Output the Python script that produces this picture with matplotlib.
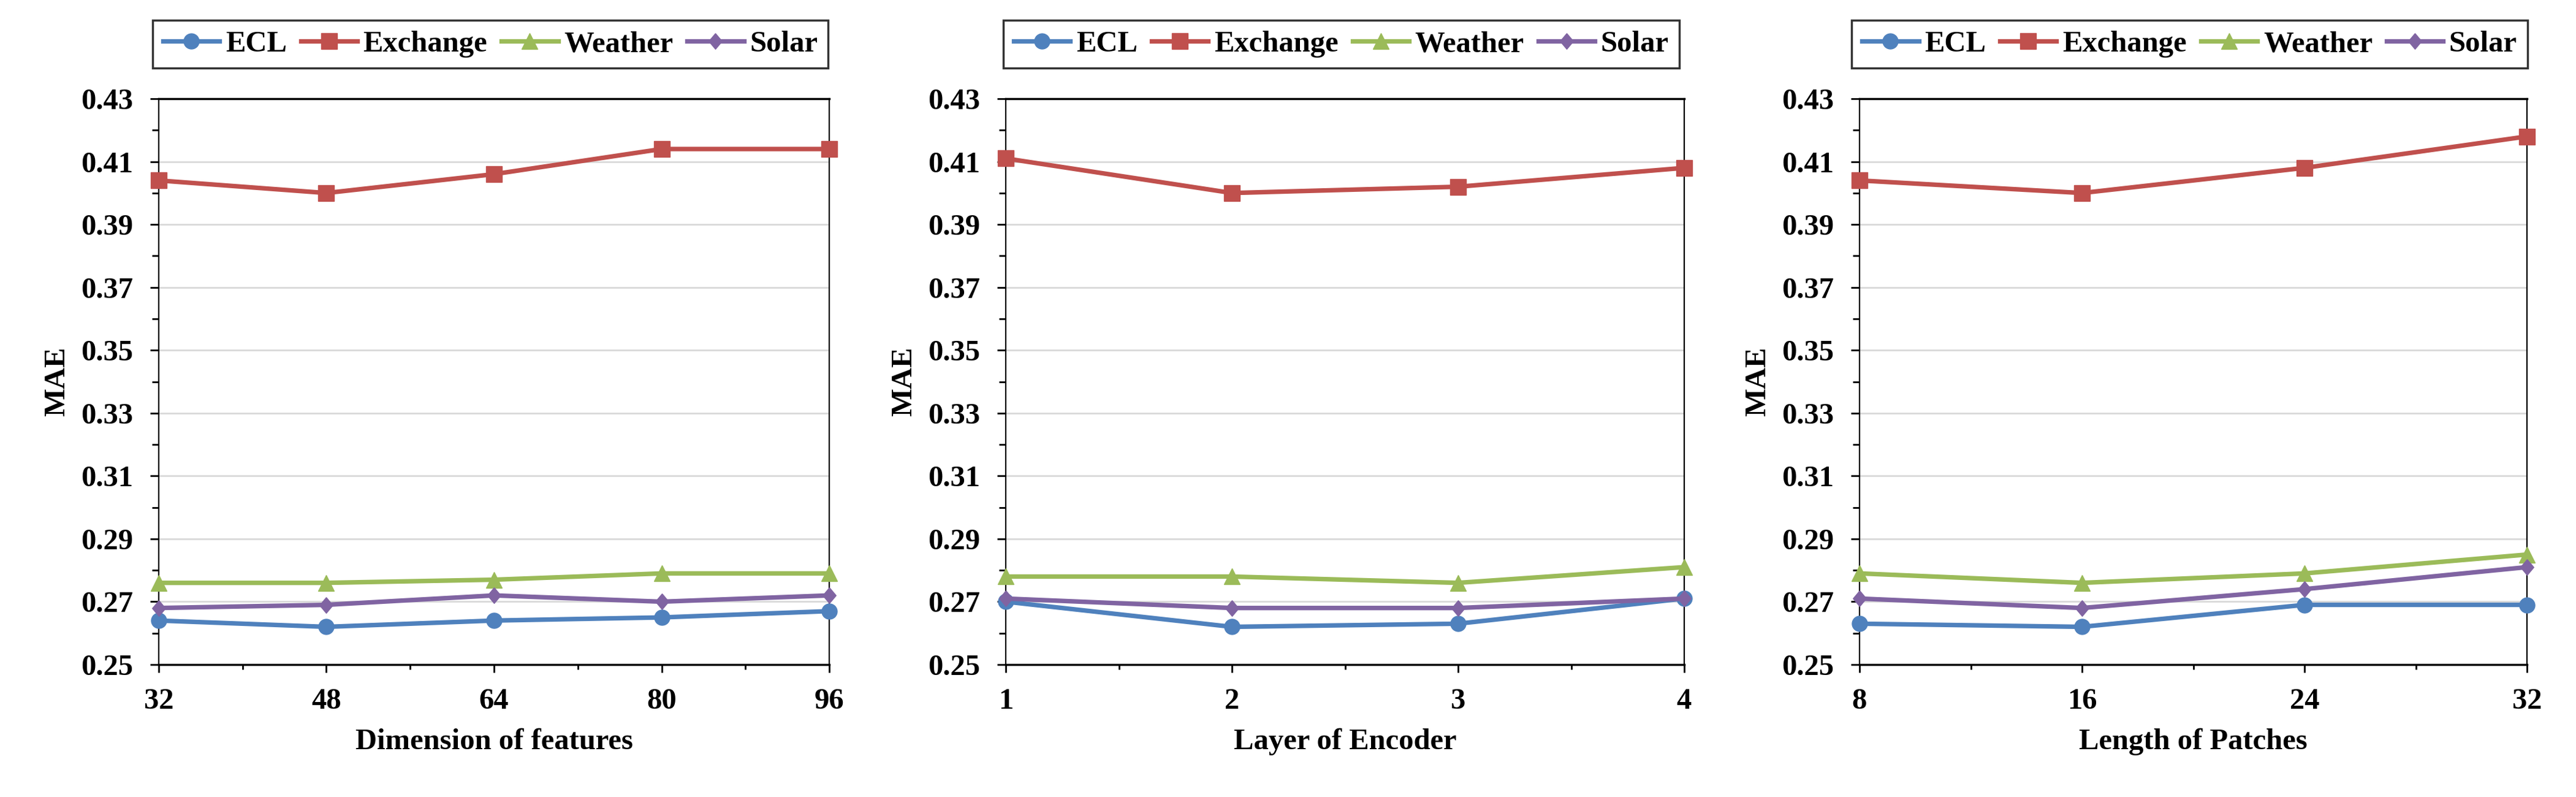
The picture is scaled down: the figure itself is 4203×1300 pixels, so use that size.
import matplotlib
matplotlib.use("Agg")
import matplotlib.pyplot as plt
from matplotlib.ticker import MultipleLocator, FixedLocator

# ---------------- data ----------------
series_names = ["ECL", "Exchange", "Weather", "Solar"]

x_dim = [32, 48, 64, 80, 96]
dim_ecl = [0.264, 0.262, 0.264, 0.265, 0.267]
dim_exchange = [0.404, 0.400, 0.406, 0.414, 0.414]
dim_weather = [0.276, 0.276, 0.277, 0.279, 0.279]
dim_solar = [0.268, 0.269, 0.272, 0.270, 0.272]

x_layer = [1, 2, 3, 4]
layer_ecl = [0.270, 0.262, 0.263, 0.271]
layer_exchange = [0.411, 0.400, 0.402, 0.408]
layer_weather = [0.278, 0.278, 0.276, 0.281]
layer_solar = [0.271, 0.268, 0.268, 0.271]

x_patch = [8, 16, 24, 32]
patch_ecl = [0.263, 0.262, 0.269, 0.269]
patch_exchange = [0.404, 0.400, 0.408, 0.418]
patch_weather = [0.279, 0.276, 0.279, 0.285]
patch_solar = [0.271, 0.268, 0.274, 0.281]

x_titles = ["Dimension of features", "Layer of Encoder", "Length of Patches"]
y_title = "MAE"
y_ticks = [0.25, 0.27, 0.29, 0.31, 0.33, 0.35, 0.37, 0.39, 0.41, 0.43]

# ---------------- style ----------------
plt.rcParams["font.family"] = ["Liberation Serif", "DejaVu Serif"]
plt.rcParams["font.weight"] = "bold"
FS = 35

colors = ["#4F81BD", "#C0504D", "#9BBB59", "#8064A2"]
diamond = [(0, 1), (0.84, 0), (0, -1), (-0.84, 0), (0, 1)]
markers = ["o", "s", "^", diamond]
msizes = [18, 19, 19, 18.5]

fig = plt.figure(figsize=(42.03, 13), dpi=100)
W, H = 4203.0, 1300.0
panels_px = [(259, 1353), (1641, 2748), (3034, 4123)]
top_px, bot_px = 161, 1084

panels = [
    (x_dim, [dim_ecl, dim_exchange, dim_weather, dim_solar]),
    (x_layer, [layer_ecl, layer_exchange, layer_weather, layer_solar]),
    (x_patch, [patch_ecl, patch_exchange, patch_weather, patch_solar]),
]

for i, ((xs, ys_list), (l, r)) in enumerate(zip(panels, panels_px)):
    ax = fig.add_axes([l / W, 1 - bot_px / H, (r - l) / W, (bot_px - top_px) / H])
    for name, ys, c, m, ms in zip(series_names, ys_list, colors, markers, msizes):
        ax.plot(xs, ys, color=c, lw=5.3, marker=m, markersize=ms,
                markerfacecolor=c, markeredgecolor=c, label=name,
                clip_on=False, zorder=3)
    ax.set_xlim(xs[0], xs[-1])
    ax.set_ylim(0.25, 0.43)
    ax.yaxis.set_major_locator(FixedLocator(y_ticks))
    ax.yaxis.set_minor_locator(MultipleLocator(0.01))
    step = xs[1] - xs[0]
    ax.xaxis.set_major_locator(FixedLocator(xs))
    ax.xaxis.set_minor_locator(FixedLocator([x + step / 2 for x in xs[:-1]]))
    ax.set_yticklabels([f"{v:.2f}" for v in y_ticks])
    ax.set_xticklabels([str(x) for x in xs])
    for t in ax.get_xticklabels() + ax.get_yticklabels():
        t.set_fontsize(FS)
        t.set_fontweight("bold")
    ax.tick_params(axis="y", which="major", direction="out", length=10, width=2, pad=20)
    ax.tick_params(axis="y", which="minor", direction="out", length=8, width=2)
    ax.tick_params(axis="x", which="major", direction="out", length=9, width=2, pad=18)
    ax.tick_params(axis="x", which="minor", direction="out", length=6, width=2)
    ax.grid(axis="y", which="major", color="#d9d9d9", lw=2, zorder=0)
    ax.set_axisbelow(True)
    for side in ["top", "bottom"]:
        ax.spines[side].set_linewidth(2.5)
    for side in ["left", "right"]:
        ax.spines[side].set_linewidth(1.6)
    ax.set_xlabel(x_titles[i], fontsize=FS, fontweight="bold", labelpad=16)
    ax.set_ylabel(y_title, fontsize=FS, fontweight="bold", labelpad=12)
    leg = ax.legend(loc="lower center", bbox_to_anchor=(0.4945, 1.054), ncol=4,
                    frameon=True, fancybox=False, borderaxespad=0,
                    prop={"size": FS, "weight": "bold"}, handlelength=1.9,
                    handletextpad=0.2, columnspacing=0.47, borderpad=0.35)
    leg.get_frame().set_edgecolor("black")
    leg.get_frame().set_linewidth(2.5)

fig.savefig("out.png", dpi=100, facecolor="white")
